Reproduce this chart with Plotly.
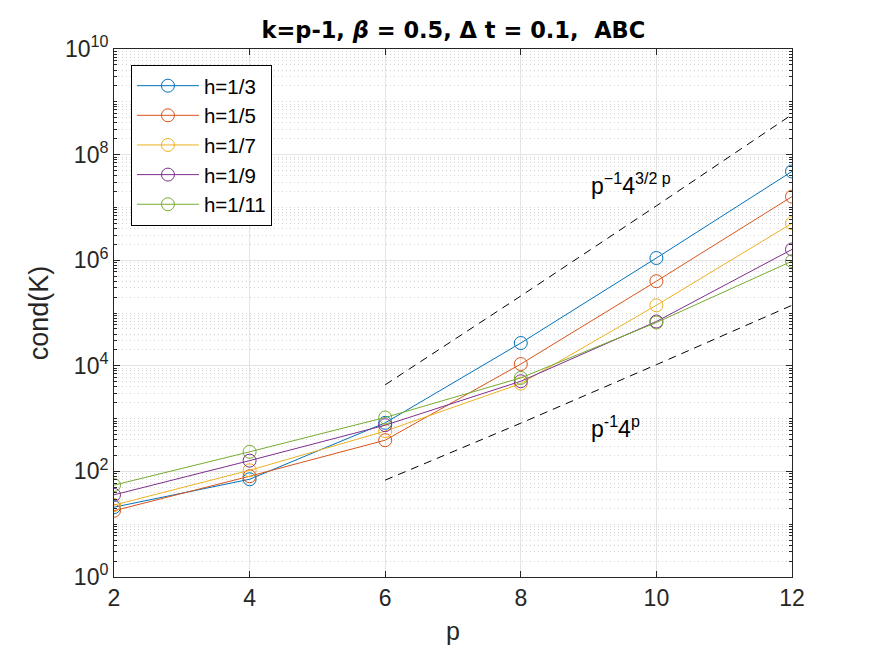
import numpy as np
import plotly.graph_objects as go

# -----------------------------
# Data
# -----------------------------
p = [2, 4, 6, 8, 10, 12]

h3 = [21, 71, 830, 2.7e4, 1.1e6, 4.8e7]
h5 = [18, 81, 390, 1.08e4, 4.0e5, 1.6e7]
h7 = [23, 105, 580, 4.6e3, 1.4e5, 5.0e6]
h9 = [36, 160, 750, 5.1e3, 6.9e4, 1.6e6]
h11 = [55, 235, 1050, 5.9e3, 6.6e4, 9.6e5]

series_names = ["h=1/3", "h=1/5", "h=1/7", "h=1/9", "h=1/11"]
series_vals = [h3, h5, h7, h9, h11]
colors = ["#0072BD", "#D95319", "#EDB120", "#7E2F8E", "#77AC30"]

# reference slopes (dashed)
p_ref = [6, 8, 10, 12]
ref_upper = [4.37e3, 2.10e5, 1.07e7, 5.73e8]
ref_lower = [68.3, 819, 1.05e4, 1.40e5]

ytick_vals = [1, 1e2, 1e4, 1e6, 1e8, 1e10]
ytick_text = ["10<sup>0</sup>", "10<sup>2</sup>", "10<sup>4</sup>",
              "10<sup>6</sup>", "10<sup>8</sup>", "10<sup>10</sup>"]

# minor grid positions: 2..10 x 10^k
minor_vals = [m * 10.0 ** k for k in range(10) for m in range(2, 11)]

FONT = "Liberation Sans, Arial, Helvetica, sans-serif"
TITLE_FONT = "DejaVu Sans, Liberation Sans, sans-serif"

# -----------------------------
# Figure
# -----------------------------
fig = go.Figure()

for i, (name, vals) in enumerate(zip(series_names, series_vals)):
    fig.add_trace(go.Scatter(
        x=p, y=vals, mode="lines+markers", name=name,
        line=dict(color=colors[i], width=1),
        marker=dict(symbol="circle-open", size=13, color=colors[i],
                    line=dict(width=1))
    ))

for vals in (ref_upper, ref_lower):
    fig.add_trace(go.Scatter(
        x=p_ref, y=vals, mode="lines", showlegend=False,
        line=dict(color="black", width=1, dash="8px,6px")
    ))

fig.add_annotation(x=9.0, y=7.45, xref="x", yref="y", xanchor="left",
                   yanchor="middle", showarrow=False,
                   text="p<sup>\u22121</sup>4<sup>3/2 p</sup>",
                   font=dict(size=23, color="black", family=FONT))
fig.add_annotation(x=9.0, y=2.84, xref="x", yref="y", xanchor="left",
                   yanchor="middle", showarrow=False,
                   text="p<sup>-1</sup>4<sup>p</sup>",
                   font=dict(size=23, color="black", family=FONT))

fig.update_layout(
    width=875, height=656,
    margin=dict(l=106, r=91, t=41, b=87),
    paper_bgcolor="white", plot_bgcolor="white",
    font=dict(family=FONT, color="#262626", size=23),
    title=dict(text="<b>k=p-1, <i>\u03b2</i> = 0.5, \u0394 t = 0.1,&nbsp; ABC</b>",
               x=0.509, xanchor="center", y=0.966, yanchor="middle",
               font=dict(size=22.5, color="black", family=TITLE_FONT)),
    showlegend=True,
    legend=dict(x=0.025, y=0.97, xanchor="left", yanchor="top",
                bgcolor="white", bordercolor="black", borderwidth=1,
                font=dict(size=20.5, color="black", family=FONT),
                itemwidth=62, tracegroupgap=0),
)

fig.update_xaxes(
    range=[2, 12], tickvals=p, ticks="inside", ticklen=6,
    tickcolor="#262626", showline=True, linecolor="#262626", linewidth=1,
    mirror="allticks", showgrid=True, gridcolor="#e3e3e3", gridwidth=1,
    zeroline=False, tickfont=dict(size=23),
    title=dict(text="p", font=dict(size=25), standoff=12),
)

fig.update_yaxes(
    type="log", range=[0, 10], tickvals=ytick_vals, ticktext=ytick_text,
    ticks="inside", ticklen=6, tickcolor="#262626",
    showline=True, linecolor="#262626", linewidth=1, mirror="allticks",
    showgrid=True, gridcolor="#e3e3e3", gridwidth=1, zeroline=False,
    tickfont=dict(size=23),
    minor=dict(tickmode="array", tickvals=minor_vals, ticks="inside",
               ticklen=3, tickcolor="#262626", showgrid=True,
               gridcolor="#d6d6d6", griddash="1px,3px", gridwidth=1),
    title=dict(text="cond(K)", font=dict(size=27), standoff=8),
)

fig.write_html("out.html")
